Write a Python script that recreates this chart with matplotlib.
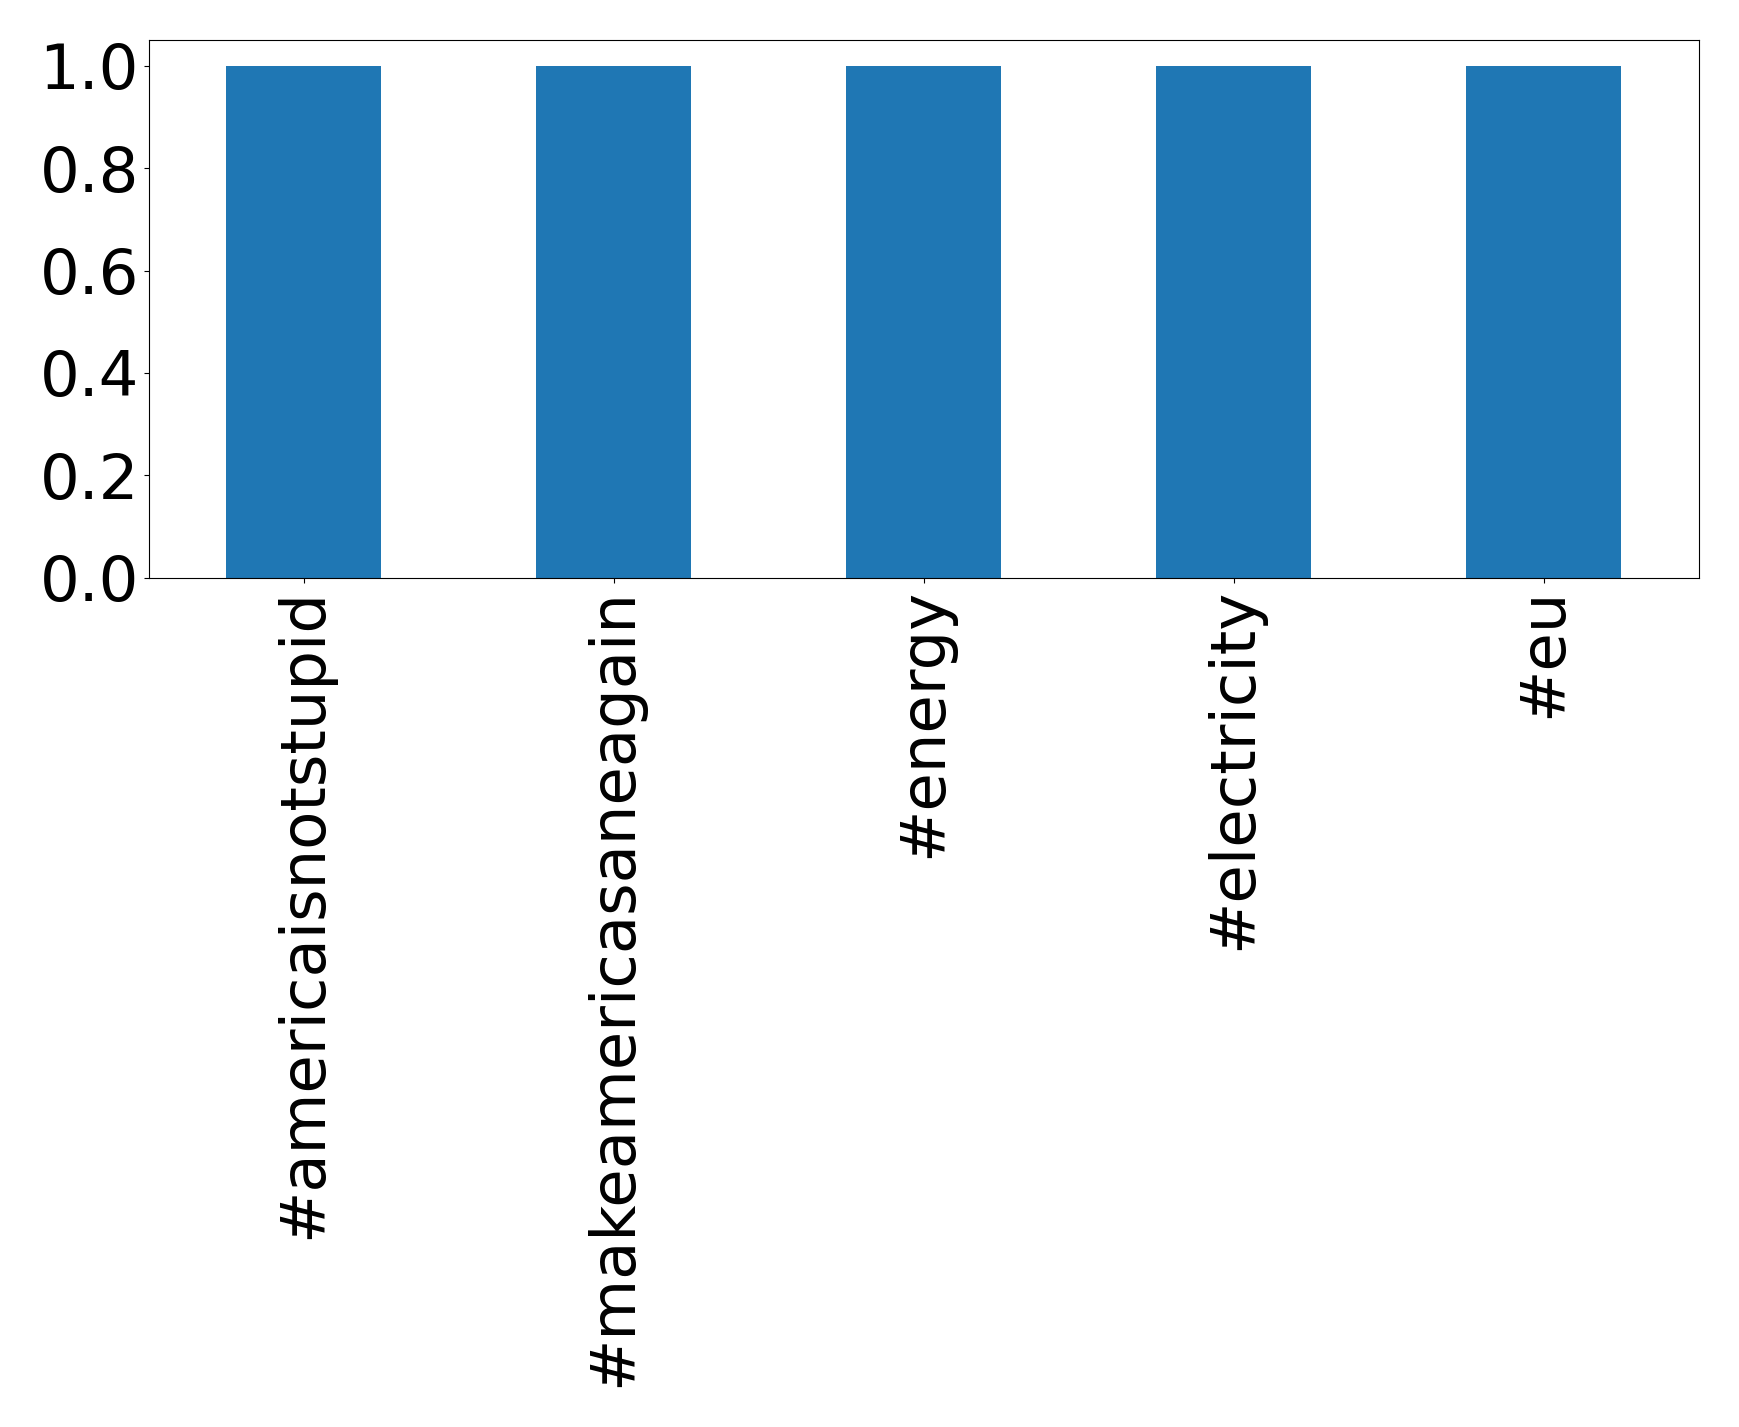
import pandas as pd
from matplotlib import pyplot as plt

hashtags = ["#americaisnotstupid", "#makeamericasaneagain", "#energy", "#electricity", "#eu"]
counts = [1, 1, 1, 1, 1]
yticks = [0.0, 0.2, 0.4, 0.6, 0.8, 1.0]

data = pd.Series(counts, index=hashtags)

fig = plt.figure(figsize=(17.39, 14.27), dpi=100)
ax = fig.add_axes([0.0855, 0.595, 0.8915, 0.377])

data.plot(kind="bar", ax=ax, color="#1f77b4", width=0.5)

ax.set_yticks(yticks)
ax.tick_params(axis="both", labelsize=45)
ax.set_xticks(range(len(hashtags)))
ax.set_xticklabels(hashtags, rotation=90)

fig.savefig("out.png", dpi=100)
